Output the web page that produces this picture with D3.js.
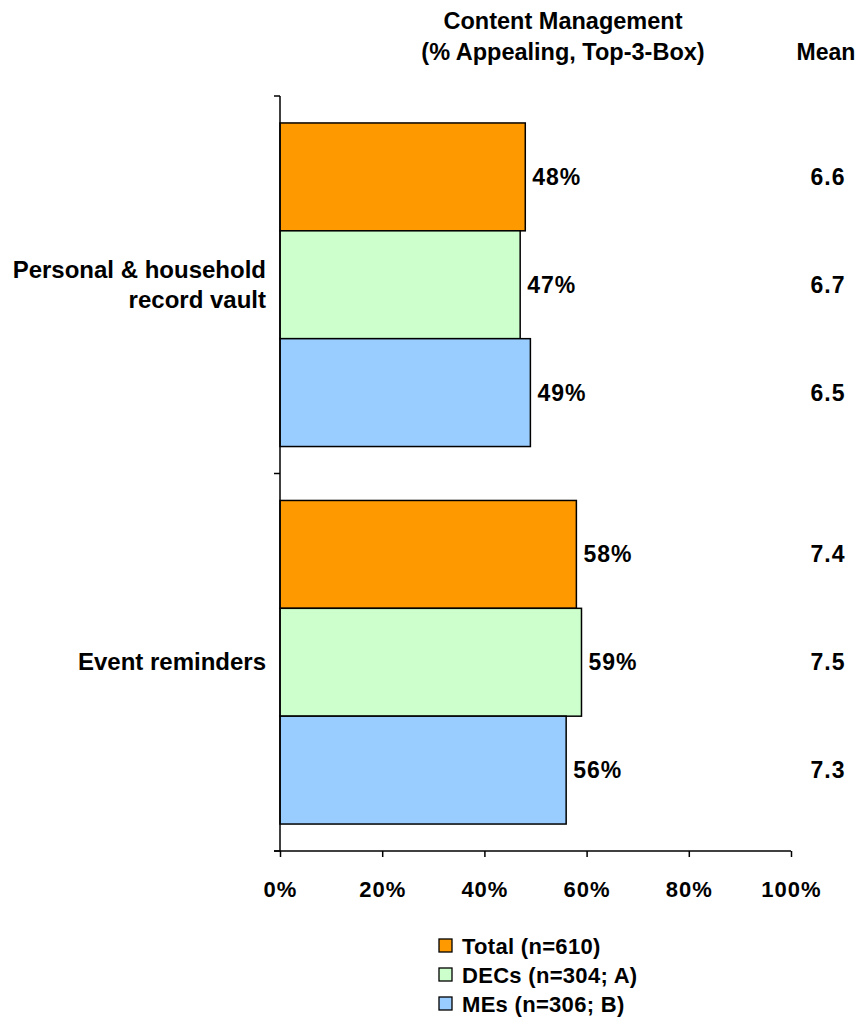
<!DOCTYPE html>
<html><head><meta charset="utf-8">
<script src="https://cdn.jsdelivr.net/npm/d3@7"></script>
<style>
html,body{margin:0;padding:0;background:#fff;}
svg{display:block;font-family:"Liberation Sans",Arial,sans-serif;font-weight:bold;}
</style></head>
<body><svg id="c" width="859" height="1018"></svg>
<script>
const categories = ["Personal & household record vault", "Event reminders"];
const categoryLines = [["Personal & household", "record vault"], ["Event reminders"]];
const seriesNames = ["Total (n=610)", "DECs (n=304; A)", "MEs (n=306; B)"];
const seriesColors = ["#FF9900", "#CCFFCC", "#99CCFF"];
const total = [48, 58];
const decs = [47, 59];
const mes = [49, 56];
const meanTotal = [6.6, 7.4];
const meanDecs = [6.7, 7.5];
const meanMes = [6.5, 7.3];
const xTicks = [0, 20, 40, 60, 80, 100];
const titleLines = ["Content Management", "(% Appealing, Top-3-Box)"];
const meanTitle = "Mean";

const values = [total, decs, mes];
const means = [meanTotal, meanDecs, meanMes];

const svg = d3.select("#c");
const pLeft = 280, pRight = 791, pTop = 96, pBottom = 851;

const x = d3.scaleLinear().domain([0, 100]).range([pLeft, pRight]);
const y = d3.scaleBand().domain(categories).range([pTop, pBottom]).padding(0);
const ys = d3.scaleBand().domain(seriesNames).range([0, y.bandwidth()]).paddingInner(0).paddingOuter(0.25);

// bars
categories.forEach((c, ci) => {
  const g = svg.append("g").attr("transform", `translate(0,${y(c)})`);
  seriesNames.forEach((s, si) => {
    const v = values[si][ci];
    g.append("rect")
      .attr("x", x(0)).attr("y", ys(s))
      .attr("width", x(v) - x(0)).attr("height", ys.bandwidth())
      .attr("fill", seriesColors[si]).attr("stroke", "#000").attr("stroke-width", 1.5);
    g.append("text")
      .attr("x", x(v) + 7).attr("y", ys(s) + ys.bandwidth() / 2 + 8)
      .attr("font-size", 23).attr("letter-spacing", 1).attr("fill", "#000")
      .text(v + "%");
    g.append("text")
      .attr("x", 828).attr("y", ys(s) + ys.bandwidth() / 2 + 8)
      .attr("text-anchor", "middle").attr("font-size", 23).attr("letter-spacing", 1)
      .text(means[si][ci].toFixed(1));
  });
});

// y axis
const yAxis = svg.append("g").attr("transform", `translate(${pLeft},0)`);
yAxis.append("line").attr("x1", 0).attr("x2", 0).attr("y1", pTop).attr("y2", pBottom).attr("stroke", "#000").attr("stroke-width", 1.5);
const yTickPos = categories.map(c => y(c)).concat([pBottom]);
yTickPos.forEach(p => {
  yAxis.append("line").attr("x1", -6).attr("x2", 0).attr("y1", p).attr("y2", p).attr("stroke", "#000").attr("stroke-width", 1.5);
});

// category labels
categories.forEach((c, ci) => {
  const lines = categoryLines[ci];
  const cy = y(c) + y.bandwidth() / 2;
  const lh = 30;
  const t = svg.append("text").attr("text-anchor", "end").attr("font-size", 24).attr("fill", "#000");
  lines.forEach((l, li) => {
    t.append("tspan").attr("x", 266).attr("y", cy + 8 + (li - (lines.length - 1) / 2) * lh).text(l);
  });
});

// x axis
const xAxis = d3.axisBottom(x).tickValues(xTicks).tickSize(6).tickFormat(d => d + "%");
const xg = svg.append("g").attr("transform", `translate(0,${pBottom})`).call(xAxis);
xg.select(".domain").attr("d", `M${pLeft - 6},0H${pRight}`).attr("stroke", "#000").attr("stroke-width", 1.5);
xg.selectAll(".tick line").attr("stroke", "#000").attr("stroke-width", 1.5);
xg.selectAll(".tick text").attr("font-size", 22).attr("font-family", "Liberation Sans, Arial, sans-serif")
  .attr("font-weight", "bold").attr("letter-spacing", 1).attr("fill", "#000").attr("dy", null).attr("y", 46);

// titles
const tt = svg.append("text").attr("text-anchor", "middle").attr("font-size", 23.5);
titleLines.forEach((l, i) => tt.append("tspan").attr("x", 563).attr("y", 29 + i * 31).text(l));
svg.append("text").attr("x", 826).attr("y", 60).attr("text-anchor", "middle").attr("font-size", 23).text(meanTitle);

// legend
seriesNames.forEach((s, i) => {
  const cy = 946 + i * 29;
  svg.append("rect").attr("x", 439).attr("y", cy - 7).attr("width", 13).attr("height", 13)
    .attr("fill", seriesColors[i]).attr("stroke", "#000").attr("stroke-width", 1.3);
  svg.append("text").attr("x", 462).attr("y", cy + 8).attr("font-size", 22).attr("letter-spacing", 0.3).text(s);
});
</script></body></html>
